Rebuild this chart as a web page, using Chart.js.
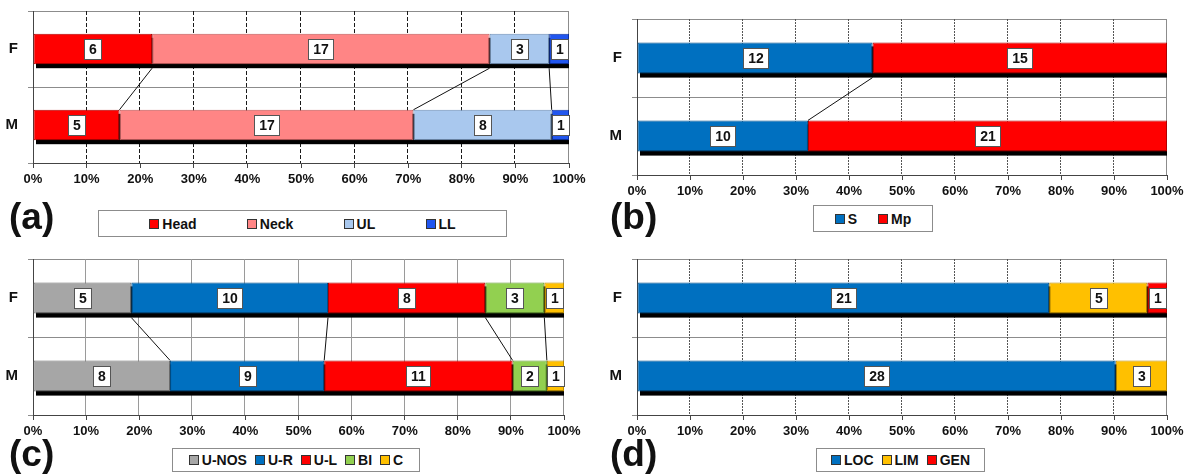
<!DOCTYPE html>
<html>
<head>
<meta charset="utf-8">
<script src="https://cdn.jsdelivr.net/npm/chart.js@4.4.1/dist/chart.umd.min.js"></script>
<style>
  body { margin: 0; background: #fff; font-family: "Liberation Sans", Arial, sans-serif; }
  #fig { position: relative; width: 1188px; height: 474px; overflow: hidden; }
  .pane { position: absolute; }
  .tag { position: absolute; font-weight: bold; font-size: 37px; line-height: 1; color: #111; }
  .legend { position: absolute; box-sizing: border-box; border: 1px solid #8c8c8c; display: flex; align-items: center;
            font-weight: bold; font-size: 14px; color: #111; background: #fff; }
  .legend .it { display: flex; align-items: center; white-space: nowrap; }
  .legend .sw { display: inline-block; width: 8px; height: 8px; border: 1px solid #333; margin-right: 3px; }
</style>
</head>
<body>
<div id="fig"></div>
<script>
// categories (rows) and x-axis ticks
const genders = ['F', 'M'];
const xTicks = [0, 10, 20, 30, 40, 50, 60, 70, 80, 90, 100];

// (a) site
const siteNames = ['Head', 'Neck', 'UL', 'LL'];
const siteF = [6, 17, 3, 1];
const siteM = [5, 17, 8, 1];

// (b) type
const typeNames = ['S', 'Mp'];
const typeF = [12, 15];
const typeM = [10, 21];

// (c) side
const sideNames = ['U-NOS', 'U-R', 'U-L', 'BI', 'C'];
const sideF = [5, 10, 8, 3, 1];
const sideM = [8, 9, 11, 2, 1];

// (d) extent
const extNames = ['LOC', 'LIM', 'GEN'];
const extF = [21, 5, 1];
const extM = [28, 3, 0];

// colours
const siteColors = ['#ff0000', '#ff8585', '#a9c8ee', '#2156ef'];
const siteEdges = ['#b00000', '#c05a5a', '#6f8fb5', '#0d2f9a'];
const typeColors = ['#0070c0', '#ff0000'];
const typeEdges = ['#004f8a', '#b00000'];
const sideColors = ['#a6a6a6', '#0070c0', '#ff0000', '#92d050', '#ffc000'];
const sideEdges = ['#6e6e6e', '#004f8a', '#b00000', '#5f9a2c', '#b98b00'];
const extColors = ['#0070c0', '#ffc000', '#ff0000'];
const extEdges = ['#004f8a', '#b98b00', '#b00000'];

Chart.defaults.font.family = '"Liberation Sans", Arial, sans-serif';

const W = 594, H = 200;

const panels = [
  { tag: '(a)', left: 0, top: 0, area: { l: 33, r: 569, t: 11, b: 163 },
    names: siteNames, f: siteF, m: siteM, colors: siteColors, edges: siteEdges,
    grid: { color: '#1a1a1a', dash: [4, 2] }, links: true,
    tagPos: [9, 198], legend: { x: 98, y: 210, w: 409, h: 27, mode: 'space-evenly' } },
  { tag: '(b)', left: 594, top: 0, area: { l: 43, r: 573, t: 19, b: 175 },
    names: typeNames, f: typeF, m: typeM, colors: typeColors, edges: typeEdges,
    grid: { color: '#555', dash: [2, 1] }, links: true,
    tagPos: [610, 198], legend: { x: 813, y: 205, w: 120, h: 27, mode: 'space-evenly' } },
  { tag: '(c)', left: 0, top: 240, area: { l: 33, r: 564, t: 19, b: 175 },
    names: sideNames, f: sideF, m: sideM, colors: sideColors, edges: sideEdges,
    grid: { color: '#9a9a9a', dash: [] }, links: true,
    tagPos: [9, 435], legend: { x: 172, y: 448, w: 248, h: 24, mode: 'center' } },
  { tag: '(d)', left: 594, top: 240, area: { l: 43, r: 573, t: 19, b: 175 },
    names: extNames, f: extF, m: extM, colors: extColors, edges: extEdges,
    grid: { color: '#555', dash: [2, 1] }, links: false,
    tagPos: [610, 435], legend: { x: 816, y: 448, w: 169, h: 24, mode: 'center' } }
];

const decor = {
  id: 'decor',
  beforeDatasetsDraw(chart, args, o) {
    const { ctx, chartArea: a, scales: { x } } = chart;
    ctx.save();
    ctx.lineWidth = 1;
    xTicks.forEach(v => {
      if (v === 0) return;
      const px = Math.round(x.getPixelForValue(v)) - 0.5;
      ctx.strokeStyle = v === 100 ? '#8c8c8c' : o.color;
      ctx.setLineDash(v === 100 ? [] : o.dash);
      ctx.beginPath();
      ctx.moveTo(px, a.top);
      ctx.lineTo(px, a.bottom);
      ctx.stroke();
    });
    ctx.setLineDash([]);
    // black drop shadow under each bar
    ctx.beginPath();
    ctx.rect(a.left, a.top, a.right - a.left, a.bottom - a.top);
    ctx.clip();
    ctx.fillStyle = '#000';
    chart.getDatasetMeta(0).data.forEach(el => {
      const top = el.y - el.height / 2;
      ctx.fillRect(a.left + 3, top + 4, a.right - a.left, el.height);
    });
    ctx.restore();
  },
  afterDatasetsDraw(chart, args, o) {
    const { ctx } = chart;
    const n = chart.data.datasets.length;
    ctx.save();
    if (o.links) {
      ctx.strokeStyle = '#111';
      ctx.lineWidth = 1;
      for (let i = 0; i < n - 1; i++) {
        const [f, m] = chart.getDatasetMeta(i).data;
        ctx.beginPath();
        ctx.moveTo(f.x, f.y + f.height / 2 + 4);
        ctx.lineTo(m.x, m.y - m.height / 2);
        ctx.stroke();
      }
    }
    ctx.font = 'bold 14px "Liberation Sans", Arial, sans-serif';
    ctx.textAlign = 'center';
    ctx.textBaseline = 'middle';
    chart.data.datasets.forEach((ds, i) => {
      chart.getDatasetMeta(i).data.forEach((el, j) => {
        const c = ds.counts[j];
        if (!c) return;
        const cx = (el.x + el.base) / 2, cy = el.y;
        const w = Math.round(ctx.measureText(String(c)).width + 9), h = 20;
        const bx = Math.round(cx - w / 2) + 0.5, by = Math.round(cy - h / 2) + 0.5;
        ctx.fillStyle = '#fff';
        ctx.fillRect(bx, by, w, h);
        ctx.strokeStyle = '#555';
        ctx.strokeRect(bx, by, w, h);
        ctx.fillStyle = '#111';
        ctx.fillText(String(c), bx + w / 2, cy + 1);
      });
    });
    ctx.restore();
  }
};

const fig = document.getElementById('fig');

panels.forEach(p => {
  const box = document.createElement('div');
  box.className = 'pane';
  box.style.left = p.left + 'px';
  box.style.top = p.top + 'px';
  const canvas = document.createElement('canvas');
  canvas.width = W;
  canvas.height = H;
  canvas.style.width = W + 'px';
  canvas.style.height = H + 'px';
  box.appendChild(canvas);
  fig.appendChild(box);

  const sumF = p.f.reduce((s, v) => s + v, 0);
  const sumM = p.m.reduce((s, v) => s + v, 0);
  const datasets = p.names.map((name, i) => ({
    label: name,
    data: [p.f[i] / sumF * 100, p.m[i] / sumM * 100],
    counts: [p.f[i], p.m[i]],
    backgroundColor: p.colors[i],
    borderColor: p.edges[i],
    borderWidth: 1,
    borderSkipped: false,
    barPercentage: 0.4,
    categoryPercentage: 1
  }));

  new Chart(canvas, {
    type: 'bar',
    data: { labels: genders, datasets },
    options: {
      indexAxis: 'y',
      responsive: false,
      animation: false,
      layout: { padding: { top: p.area.t, right: W - p.area.r, left: 0, bottom: 0 } },
      plugins: {
        legend: { display: false },
        tooltip: { enabled: false },
        decor: { color: p.grid.color, dash: p.grid.dash, links: p.links }
      },
      scales: {
        x: {
          stacked: true,
          min: 0,
          max: 100,
          afterBuildTicks: s => { s.ticks = xTicks.map(v => ({ value: v })); },
          afterFit: s => { s.height = H - p.area.b; s.paddingLeft = 0; s.paddingRight = 0; },
          ticks: { callback: v => v + '%', color: '#111', font: { size: 13, weight: 'bold' },
                   padding: 4, maxRotation: 0, autoSkip: false },
          grid: { drawOnChartArea: false, tickLength: 5, color: '#444' },
          border: { color: '#444' }
        },
        y: {
          stacked: true,
          afterFit: s => { s.width = p.area.l; s.paddingTop = 0; s.paddingBottom = 0; },
          ticks: { color: '#111', font: { size: 15, weight: 'bold' }, padding: 10 },
          grid: { color: '#8c8c8c', tickLength: 5 },
          border: { color: '#444' }
        }
      }
    },
    plugins: [decor]
  });

  const tag = document.createElement('div');
  tag.className = 'tag';
  tag.textContent = p.tag;
  tag.style.left = p.tagPos[0] + 'px';
  tag.style.top = p.tagPos[1] + 'px';
  fig.appendChild(tag);

  const lg = document.createElement('div');
  lg.className = 'legend';
  lg.style.left = p.legend.x + 'px';
  lg.style.top = p.legend.y + 'px';
  lg.style.width = p.legend.w + 'px';
  lg.style.height = p.legend.h + 'px';
  lg.style.justifyContent = p.legend.mode;
  if (p.legend.mode === 'center') lg.style.gap = '8px';
  p.names.forEach((name, i) => {
    const it = document.createElement('span');
    it.className = 'it';
    const sw = document.createElement('span');
    sw.className = 'sw';
    sw.style.background = p.colors[i];
    it.appendChild(sw);
    it.appendChild(document.createTextNode(name));
    lg.appendChild(it);
  });
  fig.appendChild(lg);
});
</script>
</body>
</html>
